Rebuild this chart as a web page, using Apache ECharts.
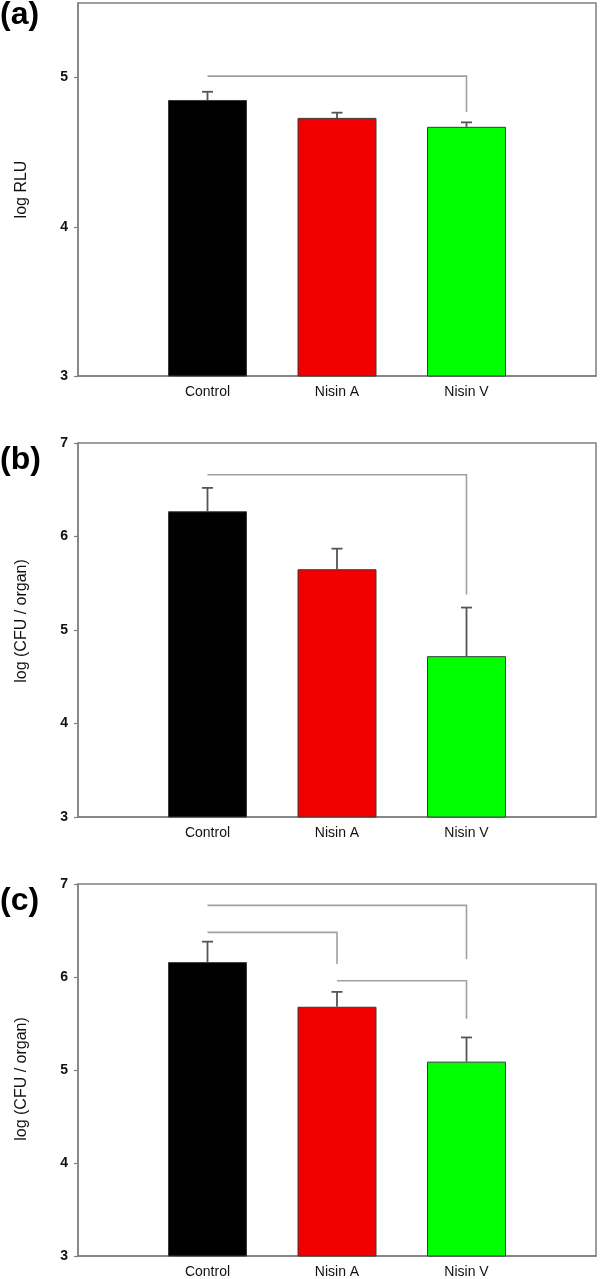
<!DOCTYPE html>
<html>
<head>
<meta charset="utf-8">
<script src="https://cdn.jsdelivr.net/npm/echarts@6/dist/echarts.min.js"></script>
<style>
html,body{margin:0;padding:0;background:#fff;}
#chart{width:600px;height:1279px;}
</style>
</head>
<body>
<div id="chart"></div>
<script>
// ---- data ----
const categories = ['Control', 'Nisin A', 'Nisin V'];
const barColors = ['#000000', '#f20000', '#00ff00'];

const panelLabels = ['(a)', '(b)', '(c)'];
const yTitles = ['log RLU', 'log (CFU / organ)', 'log (CFU / organ)'];

const meansA = [4.85, 4.73, 4.67];
const errA   = [0.055, 0.035, 0.03];
const meansB = [6.27, 5.65, 4.72];
const errB   = [0.25, 0.22, 0.52];
const meansC = [6.16, 5.68, 5.09];
const errC   = [0.22, 0.16, 0.26];

const yMinA = 3, yMaxA = 5.5;
const yMinBC = 3, yMaxBC = 7;
const ticksA = [3, 4, 5];
const ticksBC = [3, 4, 5, 6, 7];

// brackets: [from category, to category, bar level, drop end level]
const bracketsA = [['Control', 'Nisin V', 5.01, 4.77]];
const bracketsB = [['Control', 'Nisin V', 6.66, 5.38]];
const bracketsC = [
  ['Control', 'Nisin V', 6.77, 6.19],
  ['Control', 'Nisin A', 6.48, 6.14],
  ['Nisin A', 'Nisin V', 5.96, 5.55]
];

// ---- build ----
const axisCats = [''].concat(categories).concat(['']);
const FONT = '"Liberation Sans", Arial, Helvetica, sans-serif';
const AXIS_GREY = '#808080';

const panels = [
  {means: meansA, errs: errA, min: yMinA, max: yMaxA, ticks: ticksA, brackets: bracketsA, top: 3, height: 373, namePad: [0, 0, 0, 0]},
  {means: meansB, errs: errB, min: yMinBC, max: yMaxBC, ticks: ticksBC, brackets: bracketsB, top: 443, height: 374, namePad: [0, 0, 0, 18]},
  {means: meansC, errs: errC, min: yMinBC, max: yMaxBC, ticks: ticksBC, brackets: bracketsC, top: 884, height: 373, namePad: [0, 18, 0, 0]}
];

const grid = [], xAxis = [], yAxis = [], series = [], title = [];

panels.forEach((p, i) => {
  grid.push({left: 78, right: 4, top: p.top, height: p.height, show: true,
             borderColor: AXIS_GREY, borderWidth: 1.5, backgroundColor: 'transparent'});
  xAxis.push({
    type: 'category', gridIndex: i, data: axisCats, boundaryGap: false,
    axisLine: {lineStyle: {color: AXIS_GREY, width: 1.5}},
    axisTick: {show: false},
    axisLabel: {color: '#111', fontFamily: FONT, fontSize: 14, margin: 9, interval: 0},
    splitLine: {show: false}
  });
  yAxis.push({
    type: 'value', gridIndex: i, min: p.min, max: p.max, interval: 1,
    name: yTitles[i], nameLocation: 'middle', nameGap: 48,
    nameTextStyle: {fontFamily: FONT, fontSize: 16, color: '#111', padding: p.namePad},
    axisLine: {show: true, lineStyle: {color: AXIS_GREY, width: 1.5}},
    axisTick: {show: true, inside: false, length: 4, lineStyle: {color: AXIS_GREY, width: 1.2}, customValues: p.ticks},
    axisLabel: {color: '#111', fontFamily: FONT, fontSize: 14, fontWeight: 'bold', margin: 10, customValues: p.ticks},
    splitLine: {show: false}
  });
  title.push({
    text: panelLabels[i], left: 0, top: p.top - (i === 0 ? 4 : -1), padding: 0,
    textStyle: {fontFamily: FONT, fontSize: 32, fontWeight: 'bold', color: '#000'}
  });

  // bars
  const barData = [null].concat(p.means.map((v, k) => ({
    value: v,
    itemStyle: {color: barColors[k]}
  }))).concat([null]);
  series.push({
    type: 'bar', xAxisIndex: i, yAxisIndex: i, data: barData, barWidth: 79,
    itemStyle: {borderColor: '#3a3a3a', borderWidth: 1},
    silent: true, z: 2
  });

  // error bars (upper only)
  series.push({
    type: 'custom', xAxisIndex: i, yAxisIndex: i, z: 3, silent: true,
    data: p.means.map((v, k) => [k + 1, v, p.errs[k]]),
    renderItem: function (params, api) {
      const x = api.value(0), m = api.value(1), e = api.value(2);
      const p0 = api.coord([x, m]);
      const p1 = api.coord([x, m + e]);
      const style = {stroke: '#555', lineWidth: 1.8, fill: null};
      return {type: 'group', children: [
        {type: 'line', shape: {x1: p0[0], y1: p0[1], x2: p1[0], y2: p1[1]}, style: style},
        {type: 'line', shape: {x1: p1[0] - 5.5, y1: p1[1], x2: p1[0] + 5.5, y2: p1[1]}, style: style}
      ]};
    }
  });

  // significance brackets
  series.push({
    type: 'custom', xAxisIndex: i, yAxisIndex: i, z: 4, silent: true,
    data: p.brackets.map(b => [categories.indexOf(b[0]) + 1, categories.indexOf(b[1]) + 1, b[2], b[3]]),
    renderItem: function (params, api) {
      const a = api.coord([api.value(0), api.value(2)]);
      const b = api.coord([api.value(1), api.value(2)]);
      const d = api.coord([api.value(1), api.value(3)]);
      return {type: 'polyline', shape: {points: [a, b, d]},
              style: {stroke: '#a0a0a0', lineWidth: 1.6, fill: null}};
    }
  });
});

const chart = echarts.init(document.getElementById('chart'), null, {renderer: 'canvas'});
chart.setOption({
  animation: false,
  backgroundColor: '#ffffff',
  title: title,
  grid: grid,
  xAxis: xAxis,
  yAxis: yAxis,
  series: series
});
</script>
</body>
</html>
